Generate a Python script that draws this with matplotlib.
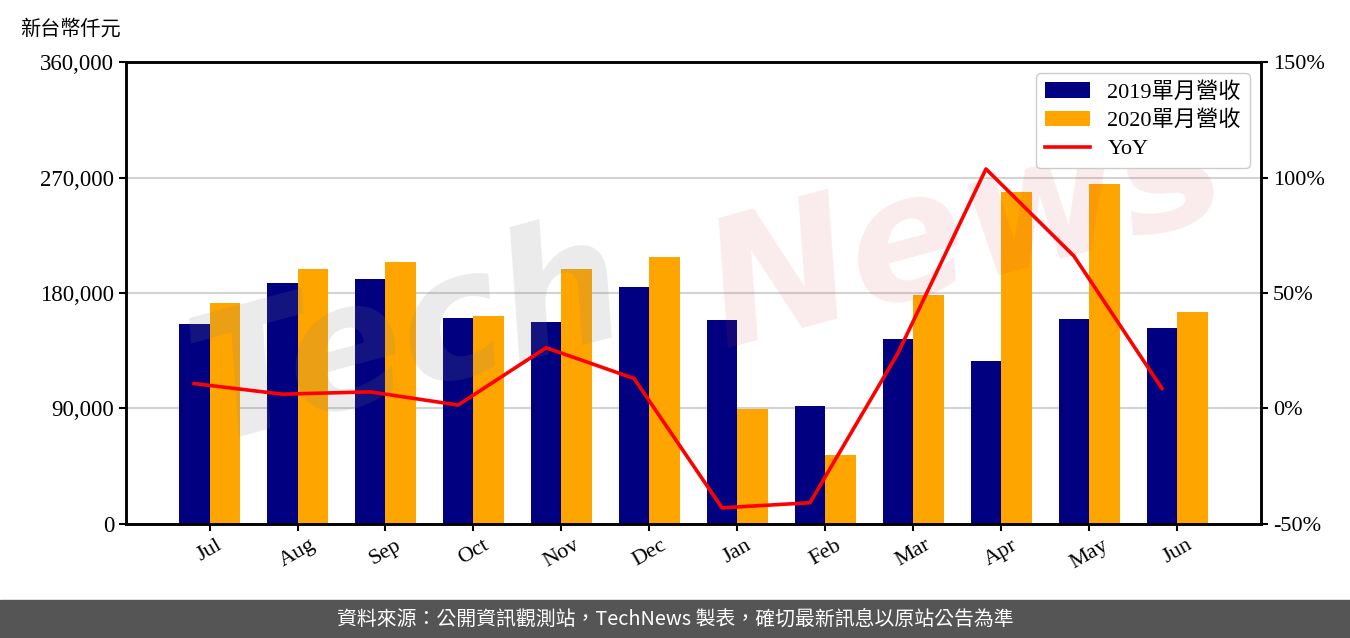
import numpy as np
import matplotlib
matplotlib.use('Agg')
import matplotlib.pyplot as plt
from matplotlib.ticker import FuncFormatter

plt.rcParams['font.family'] = ['Liberation Serif', 'Noto Sans CJK TC']

# monthly revenue, NT$ thousand
months = ['Jul', 'Aug', 'Sep', 'Oct', 'Nov', 'Dec', 'Jan', 'Feb', 'Mar', 'Apr', 'May', 'Jun']
rev_2019 = [155800, 187800, 190900, 160500, 157400, 184700, 159000, 92000, 144200, 127000, 159700, 152700]
rev_2020 = [172200, 198700, 204200, 162100, 198700, 208100, 89600, 53800, 178400, 258700, 265000, 165200]
yoy = [10.8, 6.2, 7.2, 1.5, 26.3, 13.0, -43.0, -40.8, 24.0, 103.7, 66.0, 8.7]

fig = plt.figure(figsize=(13.5, 6.38), dpi=100)
ax = fig.add_axes([0.0933, 0.1787, 0.8407, 0.7241])
x = np.arange(len(months))
w = 0.35

ax.bar(x - w / 2, rev_2019, width=w, color='#000080', label='2019單月營收', zorder=2)
ax.bar(x + w / 2, rev_2020, width=w, color='#FFA500', label='2020單月營收', zorder=2)
ax.set_ylim(0, 360000)
ax.set_yticks(np.arange(0, 360001, 90000))
ax.yaxis.set_major_formatter(FuncFormatter(lambda v, p: f'{int(v):,}'))
ax.set_xlim(-0.95, 11.95)
ax.set_xticks(x)
ax.set_xticklabels(months, rotation=30, fontsize=16)
ax.tick_params(axis='y', labelsize=16.5, width=1.5, length=5)
ax.tick_params(axis='x', width=1.5, length=5)
ax.grid(axis='y', color='#d3d3d3', linewidth=1.5, zorder=0)
for s in ax.spines.values():
    s.set_linewidth(1.8)

# watermark
ax.text(0.25, 0.40, 'Tech', transform=ax.transAxes, fontsize=125, fontweight='bold',
        style='italic', family='DejaVu Sans', color='#808080', alpha=0.16,
        rotation=15, ha='center', va='center', zorder=3)
ax.text(0.74, 0.63, 'News', transform=ax.transAxes, fontsize=125, fontweight='bold',
        style='italic', family='DejaVu Sans', color='#d04040', alpha=0.1,
        rotation=15, ha='center', va='center', zorder=3)

ax2 = ax.twinx()
ax2.plot(x - w / 2, yoy, color='red', linewidth=2.6, label='YoY', zorder=4)
ax2.set_ylim(-50, 150)
ax2.set_yticks([-50, 0, 50, 100, 150])
ax2.yaxis.set_major_formatter(FuncFormatter(lambda v, p: f'{int(v)}%'))
ax2.tick_params(axis='y', labelsize=16, width=1.5, length=5)
for s in ax2.spines.values():
    s.set_linewidth(1.8)

h1, l1 = ax.get_legend_handles_labels()
h2, l2 = ax2.get_legend_handles_labels()
ax2.legend(h1 + h2, l1 + l2, loc='upper right', fontsize=16, framealpha=1,
           edgecolor='#cccccc', handlelength=2.0, labelspacing=0.35,
           borderaxespad=0.5)

fig.text(20 / 1350, 0.955, '新台幣仟元', fontsize=14.5, family=['Noto Sans CJK TC'], va='center')

# footer band
fig.patches.append(plt.Rectangle((0, 0), 1, 38 / 638, transform=fig.transFigure,
                                 color='#555555', zorder=0))
fig.text(0.5, 19 / 638, '資料來源：公開資訊觀測站，TechNews 製表，確切最新訊息以原站公告為準',
         color='white', fontsize=14.3, family=['Noto Sans CJK TC', 'DejaVu Sans'],
         ha='center', va='center')

fig.savefig('out.png', dpi=100)
